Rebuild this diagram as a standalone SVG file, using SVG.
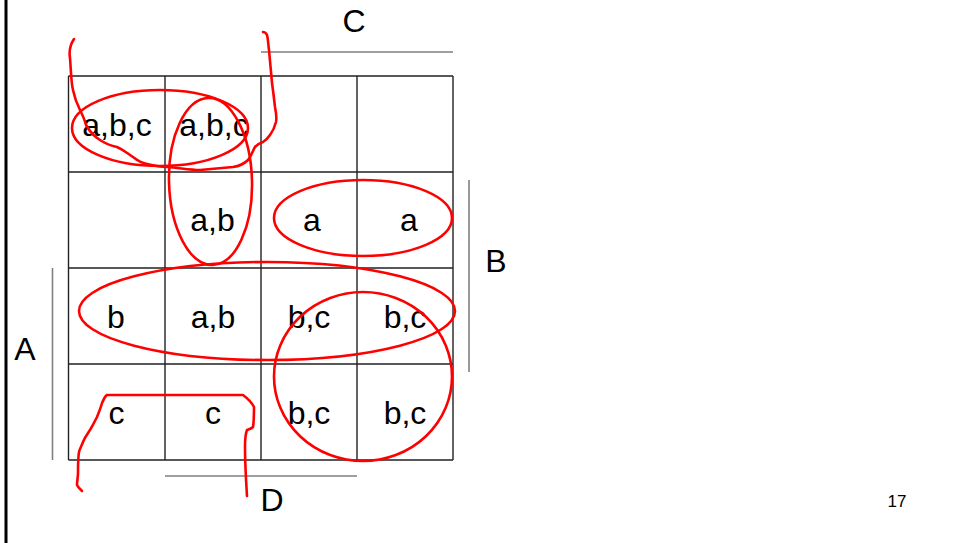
<svg xmlns="http://www.w3.org/2000/svg" width="959" height="543" viewBox="0 0 959 543">
<style>
.t{font-family:"Liberation Sans",Arial,sans-serif;font-size:32px;fill:#000;text-anchor:middle}
.g{stroke:#222;stroke-width:1.4;fill:none}
.m{stroke:#808080;stroke-width:1.6;fill:none}
.r{stroke:#ff0000;stroke-width:2.6;fill:none;stroke-linecap:round;stroke-linejoin:round}
</style>
<rect width="959" height="543" fill="#fff"/>
<rect x="4.5" y="0" width="3" height="543" fill="#000"/>
<g id="grid">
<path class="g" d="M68.5 76H453M68.5 172H453M68.5 268H453M68.5 364H453M68.5 460H453M68.5 76V460M165 76V460M261 76V460M357 76V460M453 76V460"/>
</g>
<g id="labels">
<path class="m" d="M261 52H453M469 180V372M52.5 268V460M165 476H357"/>
<text class="t" x="354" y="32">C</text>
<text class="t" x="496" y="272">B</text>
<text class="t" x="25" y="360">A</text>
<text class="t" x="272" y="511">D</text>
<text x="897" y="507" style="font-family:'Liberation Sans',Arial,sans-serif;font-size:17px;text-anchor:middle">17</text>
</g>
<g id="cells">
<text class="t" x="117" y="136">a,b,c</text>
<text class="t" x="214" y="136">a,b,c</text>
<text class="t" x="212.5" y="231">a,b</text>
<text class="t" x="312" y="231">a</text>
<text class="t" x="409" y="231">a</text>
<text class="t" x="116" y="328">b</text>
<text class="t" x="213" y="328">a,b</text>
<text class="t" x="309" y="328">b,c</text>
<text class="t" x="405" y="328">b,c</text>
<text class="t" x="116.5" y="424">c</text>
<text class="t" x="213" y="424">c</text>
<text class="t" x="309" y="424">b,c</text>
<text class="t" x="405" y="424">b,c</text>
</g>
<g id="loops">
<ellipse class="r" cx="160" cy="128" rx="88" ry="38"/>
<ellipse class="r" cx="210.5" cy="181.5" rx="41.5" ry="83.5" transform="rotate(-1.5 210.5 181.5)"/>
<ellipse class="r" cx="363" cy="218" rx="89" ry="38"/>
<ellipse class="r" cx="267" cy="311" rx="188" ry="49"/>
<ellipse class="r" cx="363" cy="376.5" rx="89" ry="84.5"/>
<path class="r" d="M74 39C70 45 69 52 70 58C71 70 71 82 73 90C75 100 78 106 80 110C83 116 85 121 86 125C90 132 95 137 100 140C106 144 112 146 117 147C124 150 128 154 133 157C138 161 142 163 147 164C155 166 161 167 167 167C180 168 190 170 200 170C212 169 223 168 233 167C240 166 245 163 248 160C252 155 253 150 255 147C258 144 260 143 263 142C266 140 268 138 270 135C273 131 275 126 276 122C277 117 276 112 275 107C274 98 273 90 272 83C271 72 270 60 269 50C268 43 268 38 267 35C266 33 264 32 263 32"/>
<path class="r" d="M82 491C80 489 78 487 77 485C77 481 78 477 78 473C78 466 78 458 79 452C80 448 82 445 83 442C85 437 88 433 90 430C93 425 95 421 97 417C99 412 101 407 102 403C104 399 105 396 107 395C130 395 220 395 243 395C247 398 252 403 254 407C254 413 254 421 253 427C251 429 249 429 247 430C245 435 245 441 245 447C245 465 246 480 247 496"/>
</g>
</svg>
